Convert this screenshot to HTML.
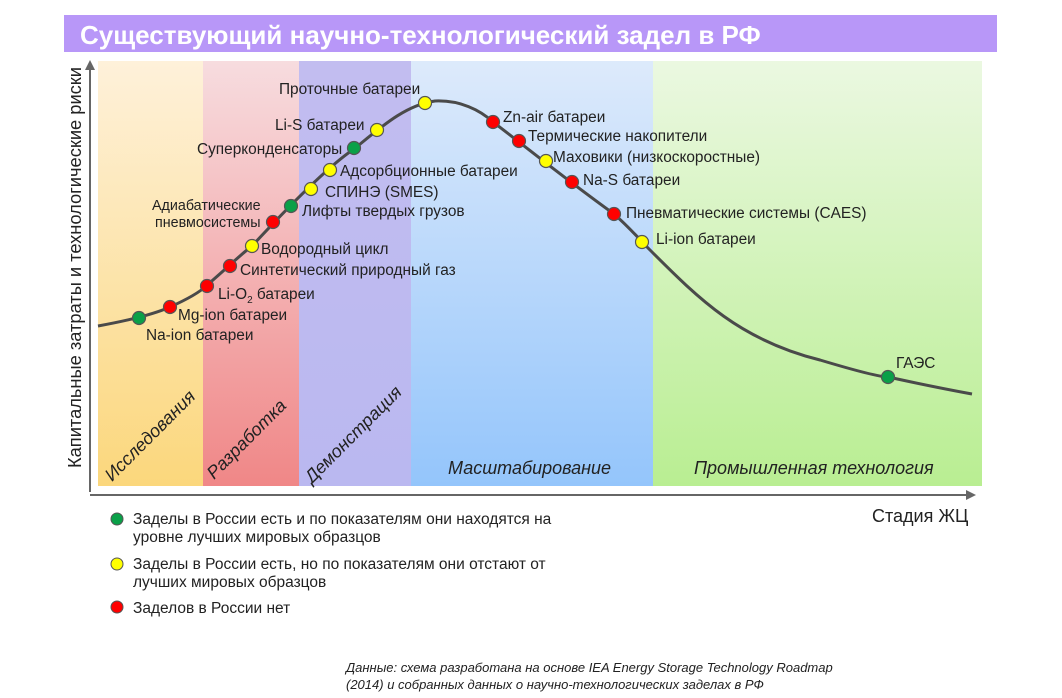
<!DOCTYPE html>
<html><head><meta charset="utf-8"><style>
body{margin:0;background:#fff;width:1062px;height:693px;overflow:hidden}
svg text{font-family:"Liberation Sans",sans-serif;fill:#222}
</style></head><body>
<svg width="1062" height="693" xmlns="http://www.w3.org/2000/svg">
<defs>
<linearGradient id="g1" x1="0" y1="0" x2="0" y2="1"><stop offset="0" stop-color="#fef1da"/><stop offset="1" stop-color="#fbd77c"/></linearGradient>
<linearGradient id="g2" x1="0" y1="0" x2="0" y2="1"><stop offset="0" stop-color="#f7dcdf"/><stop offset="1" stop-color="#f08787"/></linearGradient>
<linearGradient id="g3" x1="0" y1="0" x2="0" y2="1"><stop offset="0" stop-color="#c2bdf0"/><stop offset="1" stop-color="#bab8f0"/></linearGradient>
<linearGradient id="g4" x1="0" y1="0" x2="0" y2="1"><stop offset="0" stop-color="#ddeafb"/><stop offset="1" stop-color="#94c5fb"/></linearGradient>
<linearGradient id="g5" x1="0" y1="0" x2="0" y2="1"><stop offset="0" stop-color="#ebf8e1"/><stop offset="1" stop-color="#b9ee92"/></linearGradient>
</defs>
<rect x="64" y="15" width="933" height="37" fill="#b897f8"/>
<text x="80" y="44" font-size="26" font-weight="bold" style="fill:#fff">Существующий научно-технологический задел в РФ</text>
<rect x="98" y="61" width="105" height="425" fill="url(#g1)"/>
<rect x="203" y="61" width="96" height="425" fill="url(#g2)"/>
<rect x="299" y="61" width="112" height="425" fill="url(#g3)"/>
<rect x="411" y="61" width="242" height="425" fill="url(#g4)"/>
<rect x="653" y="61" width="329" height="425" fill="url(#g5)"/>
<line x1="90" y1="492" x2="90" y2="68" stroke="#666" stroke-width="2"/>
<polygon points="90,60 85,70 95,70" fill="#666"/>
<line x1="90" y1="495" x2="968" y2="495" stroke="#666" stroke-width="2"/>
<polygon points="976,495 966,490 966,500" fill="#666"/>
<text transform="translate(81,468) rotate(-90)" font-size="18" textLength="401" lengthAdjust="spacingAndGlyphs">Капитальные затраты и технологические риски</text>
<text x="872" y="522" font-size="18">Стадия ЖЦ</text>
<g font-size="18" font-style="italic">
<text transform="translate(112,482) rotate(-45)">Исследования</text>
<text transform="translate(214,480) rotate(-45)">Разработка</text>
<text transform="translate(312,484) rotate(-45)">Демонстрация</text>
<text x="448" y="474">Масштабирование</text>
<text x="694" y="474">Промышленная технология</text>
</g>
<path d="M98,326 C120,322 150,316 170,307 C190,298 200,292 206,286 C225,270 240,255 252,246 C290,205 330,165 354,149 C380,128 405,105 435,101 C460,100 480,110 493,122 C530,150 560,175 614,214 C630,228 640,240 650,250 C700,300 740,340 820,360 C860,372 880,377 888,377 C920,384 950,390 972,394" fill="none" stroke="#4a4a4a" stroke-width="3"/>
<g stroke="#555" stroke-width="1.2">
<circle cx="139" cy="318" r="6.5" fill="#0aa048"/>
<circle cx="170" cy="307" r="6.5" fill="#f00"/>
<circle cx="207" cy="286" r="6.5" fill="#f00"/>
<circle cx="230" cy="266" r="6.5" fill="#f00"/>
<circle cx="252" cy="246" r="6.5" fill="#ff0"/>
<circle cx="273" cy="222" r="6.5" fill="#f00"/>
<circle cx="291" cy="206" r="6.5" fill="#0aa048"/>
<circle cx="311" cy="189" r="6.5" fill="#ff0"/>
<circle cx="330" cy="170" r="6.5" fill="#ff0"/>
<circle cx="354" cy="148" r="6.5" fill="#0aa048"/>
<circle cx="377" cy="130" r="6.5" fill="#ff0"/>
<circle cx="425" cy="103" r="6.5" fill="#ff0"/>
<circle cx="493" cy="122" r="6.5" fill="#f00"/>
<circle cx="519" cy="141" r="6.5" fill="#f00"/>
<circle cx="546" cy="161" r="6.5" fill="#ff0"/>
<circle cx="572" cy="182" r="6.5" fill="#f00"/>
<circle cx="614" cy="214" r="6.5" fill="#f00"/>
<circle cx="642" cy="242" r="6.5" fill="#ff0"/>
<circle cx="888" cy="377" r="6.5" fill="#0aa048"/>
</g>
<g font-size="15.4">
<text x="146" y="340">Na-ion батареи</text>
<text x="178" y="320">Mg-ion батареи</text>
<text x="218" y="299">Li-O<tspan font-size="10" dy="4">2</tspan><tspan dy="-4"> батареи</tspan></text>
<text x="240" y="275">Синтетический природный газ</text>
<text x="261" y="254">Водородный цикл</text>
<text x="302" y="216">Лифты твердых грузов</text>
<text x="325" y="197">СПИНЭ (SMES)</text>
<text x="340" y="176">Адсорбционные батареи</text>
<text x="197" y="154">Суперконденсаторы</text>
<text x="275" y="130">Li-S батареи</text>
<text x="279" y="94">Проточные батареи</text>
<text x="503" y="122">Zn-air батареи</text>
<text x="528" y="141">Термические накопители</text>
<text x="553" y="162">Маховики (низкоскоростные)</text>
<text x="583" y="185">Na-S батареи</text>
<text x="626" y="218">Пневматические системы (CAES)</text>
<text x="656" y="244">Li-ion батареи</text>
<text x="896" y="368">ГАЭС</text>
</g>
<g font-size="14.3">
<text x="152" y="210">Адиабатические</text>
<text x="155" y="227">пневмосистемы</text>
</g>
<g stroke="#555" stroke-width="1">
<circle cx="117" cy="519" r="6" fill="#0aa048"/>
<circle cx="117" cy="564" r="6" fill="#ff0"/>
<circle cx="117" cy="607" r="6" fill="#f00"/>
</g>
<g font-size="15.5">
<text x="133" y="524">Заделы в России есть и по показателям они находятся на</text>
<text x="133" y="542">уровне лучших мировых образцов</text>
<text x="133" y="569">Заделы в России есть, но по показателям они отстают от</text>
<text x="133" y="587">лучших мировых образцов</text>
<text x="133" y="613">Заделов в России нет</text>
</g>
<g font-size="13" font-style="italic">
<text x="346" y="672">Данные: схема разработана на основе IEA Energy Storage Technology Roadmap</text>
<text x="346" y="689">(2014) и собранных данных о научно-технологических заделах в РФ</text>
</g>
</svg>
</body></html>
